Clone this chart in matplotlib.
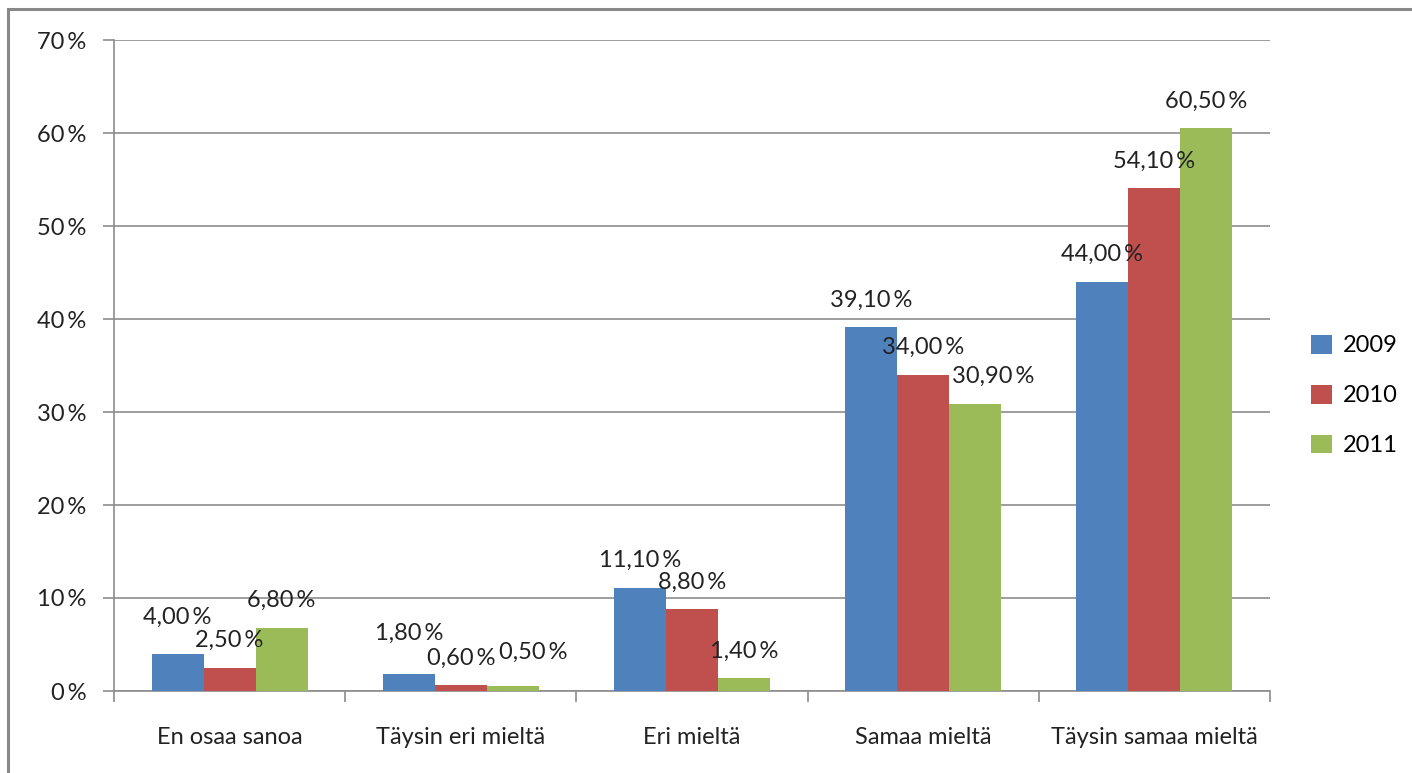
import numpy as np
import matplotlib
matplotlib.use("Agg")
import matplotlib.pyplot as plt
from matplotlib.patches import Rectangle

categories = ["En osaa sanoa", "Täysin eri mieltä", "Eri mieltä", "Samaa mieltä", "Täysin samaa mieltä"]
years = ["2009", "2010", "2011"]
values_2009 = [4.0, 1.8, 11.1, 39.1, 44.0]
values_2010 = [2.5, 0.6, 8.8, 34.0, 54.1]
values_2011 = [6.8, 0.5, 1.4, 30.9, 60.5]
colors = ["#4F81BD", "#C0504D", "#9BBB59"]

# label nudges (pixels) where Excel moved labels to avoid overlap, keyed (category, series)
label_dy = {(0, 0): 9, (1, 0): 14, (1, 2): 7}
label_dx = {(1, 2): 20, (3, 2): 18}

plt.rcParams["font.family"] = ["Lato", "DejaVu Sans"]
FS = 17
TXT = "#222222"

fig = plt.figure(figsize=(14.12, 7.73), dpi=100)
ax = fig.add_axes([114 / 1412, 1 - 691 / 773, 1156 / 1412, 651 / 773])

series = [values_2009, values_2010, values_2011]
x = np.arange(len(categories))
width = 0.225
for i, (vals, year, col) in enumerate(zip(series, years, colors)):
    xs = x + (i - 1) * width
    ax.bar(xs, vals, width=width, color=col, label=year, zorder=3)
    for j, v in enumerate(vals):
        txt = f"{v:.2f}".replace(".", ",") + "\u2009%"
        dy = 27 + label_dy.get((j, i), 0)
        dx = label_dx.get((j, i), 0)
        ax.annotate(txt, (xs[j], v), xytext=(dx * 0.72, dy * 0.72),
                    textcoords="offset points", ha="center", va="center",
                    fontsize=FS, color=TXT, zorder=4)

ax.set_xlim(-0.5, len(categories) - 0.5)
ax.set_ylim(0, 70)
ax.set_yticks(np.arange(0, 71, 10))
ax.set_yticklabels([f"{t}\u2009%" for t in range(0, 71, 10)], fontsize=FS, color=TXT)
ax.yaxis.grid(True, color="#8c8c8c", linewidth=1.2, zorder=0)
ax.set_axisbelow(True)

ax.set_xticks(np.arange(-0.5, len(categories), 1))
ax.set_xticklabels([])
ax.set_xticks(x, minor=True)
ax.set_xticklabels(categories, minor=True, fontsize=FS, color=TXT)
ax.tick_params(axis="x", which="minor", length=0, pad=26)
ax.tick_params(axis="x", which="major", length=8, color="#8c8c8c", width=1.2)
ax.tick_params(axis="y", length=8, color="#8c8c8c", width=1.2, pad=12)

for s in ["top", "right"]:
    ax.spines[s].set_visible(False)
for s in ["left", "bottom"]:
    ax.spines[s].set_color("#8c8c8c")
    ax.spines[s].set_linewidth(1.2)

ax.legend(loc="center left", bbox_to_anchor=(1.0 + 32 / 1156, 0.5 - 30 / 651), frameon=False,
          fontsize=FS, handlelength=0.85, handleheight=0.85, labelspacing=1.2,
          handletextpad=0.5, borderaxespad=0)

# outer chart frame (only top and left edges visible in the crop)
fig.add_artist(Rectangle((8 / 1412, -0.1), 1.2, 1 - 9 / 773 + 0.1, transform=fig.transFigure,
                         fill=False, edgecolor="#888888", linewidth=2.2))

fig.savefig("out.png", dpi=100)
